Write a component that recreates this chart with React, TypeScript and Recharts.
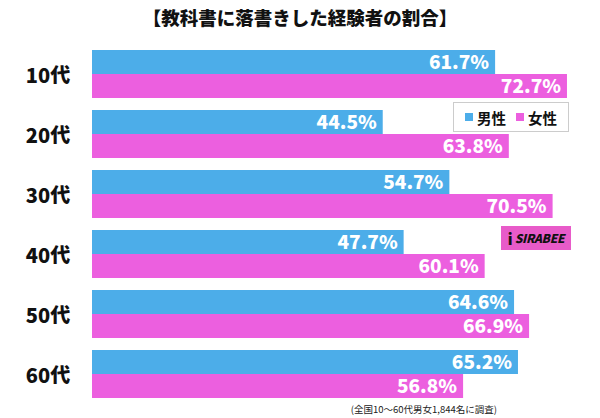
import React from 'react';
import { BarChart, Bar, XAxis, YAxis, LabelList } from 'recharts';

// 教科書に落書きした経験者の割合 (年代別・男女別)
const categories = ['10代', '20代', '30代', '40代', '50代', '60代'];
const maleValues = [61.7, 44.5, 54.7, 47.7, 64.6, 65.2];
const femaleValues = [72.7, 63.8, 70.5, 60.1, 66.9, 56.8];
const seriesNames = ['男性', '女性'];

const BLUE = '#4cade9';
const PINK = '#ec5fdf';
const FONT = '"Noto Sans CJK JP", "Noto Sans", sans-serif';

const data = categories.map((c, i) => ({
  name: c,
  male: maleValues[i],
  female: femaleValues[i]
}));

const CategoryTick = ({ y, payload }: any) => (
  <text
    x={48}
    y={y}
    textAnchor="middle"
    dominantBaseline="central"
    fontSize={20}
    fontWeight={900}
    fill="#111"
    fontFamily={FONT}
  >
    {payload.value}
  </text>
);

const fmt = (v: any) => `${Number(v).toFixed(1)}%`;

export default function App() {
  return (
    <div style={{ position: 'absolute', left: 0, top: 0, width: 600, height: 418, background: '#fff', fontFamily: FONT }}>
      <div
        style={{
          position: 'absolute',
          top: 4,
          left: 0,
          width: 600,
          textAlign: 'center',
          fontSize: 18.5,
          fontWeight: 900,
          color: '#111'
        }}
      >
        【教科書に落書きした経験者の割合】
      </div>

      <BarChart
        width={600}
        height={418}
        data={data}
        layout="vertical"
        margin={{ top: 44, right: 18, bottom: 14, left: 0 }}
        barCategoryGap={6}
        barGap={0}
      >
        <XAxis type="number" domain={[0, 75]} hide />
        <YAxis
          type="category"
          dataKey="name"
          width={92}
          axisLine={false}
          tickLine={false}
          tick={<CategoryTick />}
        />
        <Bar dataKey="male" name={seriesNames[0]} fill={BLUE} isAnimationActive={false}>
          <LabelList
            dataKey="male"
            position="insideRight"
            offset={6}
            formatter={fmt}
            fill="#fff"
            fontSize={19}
            fontWeight={900}
            fontFamily={FONT}
          />
        </Bar>
        <Bar dataKey="female" name={seriesNames[1]} fill={PINK} isAnimationActive={false}>
          <LabelList
            dataKey="female"
            position="insideRight"
            offset={6}
            formatter={fmt}
            fill="#fff"
            fontSize={19}
            fontWeight={900}
            fontFamily={FONT}
          />
        </Bar>
      </BarChart>

      {/* legend */}
      <div
        style={{
          position: 'absolute',
          left: 453,
          top: 102,
          width: 114,
          height: 28,
          border: '1px solid #ccc',
          background: '#fff',
          display: 'flex',
          alignItems: 'center',
          justifyContent: 'center',
          gap: 10,
          fontSize: 14.5,
          fontWeight: 700,
          color: '#111'
        }}
      >
        {seriesNames.map((n, i) => (
          <span key={n} style={{ display: 'flex', alignItems: 'center', gap: 4 }}>
            <span style={{ width: 8, height: 8, background: i === 0 ? BLUE : PINK, display: 'inline-block' }} />
            {n}
          </span>
        ))}
      </div>

      {/* logo */}
      <div
        style={{
          position: 'absolute',
          left: 501,
          top: 226,
          width: 70,
          height: 24,
          background: '#e85bc9',
          display: 'flex',
          alignItems: 'center',
          justifyContent: 'center',
          gap: 2
        }}
      >
        <span style={{ fontSize: 15, fontWeight: 900, color: '#111', lineHeight: 1 }}>i</span>
        <span style={{ fontSize: 12, fontWeight: 900, fontStyle: 'italic', color: '#111', letterSpacing: -0.3, lineHeight: 1 }}>
          SIRABEE
        </span>
      </div>

      {/* footnote */}
      <div
        style={{
          position: 'absolute',
          right: 103,
          top: 402,
          fontSize: 9.5,
          color: '#222',
          whiteSpace: 'nowrap'
        }}
      >
        (全国10〜60代男女1,844名に調査)
      </div>
    </div>
  );
}
